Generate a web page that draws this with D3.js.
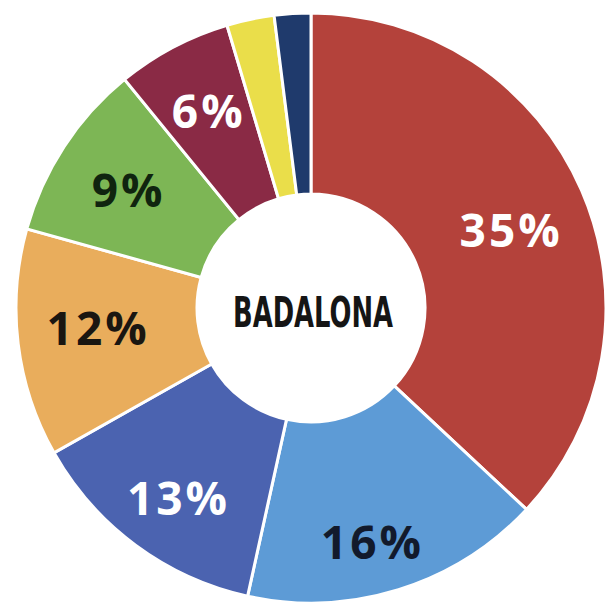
<!DOCTYPE html>
<html>
<head>
<meta charset="utf-8">
<script src="https://cdn.jsdelivr.net/npm/d3@7"></script>
<style>
  body { margin: 0; background: #fff; }
  svg { display: block; }
</style>
</head>
<body>
<div id="vis-container"></div>
<script>
// slice shares, clockwise from 12 o'clock
var shares = [37.0, 16.5, 13.4, 12.5, 9.8, 6.3, 2.6, 2.0];
var labels = ["35%", "16%", "13%", "12%", "9%", "6%", "", ""];
var colors = ["#b4423b", "#5d9bd6", "#4b63b0", "#e9ad5c", "#7db655", "#8a2a45", "#eade4a", "#1f3a6c"];
var labelColors = ["#fff", "#121a2c", "#fff", "#1a1611", "#10240f", "#fff", "#fff", "#fff"];
var centerTitle = "BADALONA";

// hand nudges of the labels away from the slice centroid (layout only)
var nudgeX = [-5, -6, -2, 6, 2, 0, 0, 0];
var nudgeY = [11, 22, 12, -6, 4, 0, 0, 0];

var width = 607, height = 606;
var cx = 311, cy = 308;
var outerR = 295, innerR = 114, labelR = 222;

var data = shares.map(function(v, i) {
    return {value: v, label: labels[i], color: colors[i], textColor: labelColors[i], nx: nudgeX[i], ny: nudgeY[i]};
});

var svg = d3.select("#vis-container").append("svg")
    .attr("width", width)
    .attr("height", height)
    .append("g")
    .attr("transform", "translate(" + cx + "," + cy + ")");

var pie = d3.pie()
    .value(function(d) { return d.value; })
    .sort(null);

var arc = d3.arc()
    .innerRadius(innerR)
    .outerRadius(outerR);

var labelArc = d3.arc()
    .innerRadius(labelR)
    .outerRadius(labelR);

var arcs = pie(data);

svg.selectAll("path.slice")
    .data(arcs)
    .enter().append("path")
    .attr("class", "slice")
    .attr("d", arc)
    .attr("fill", function(d) { return d.data.color; })
    .attr("stroke", "#fff")
    .attr("stroke-width", 3);

svg.selectAll("text.pct")
    .data(arcs)
    .enter().append("text")
    .attr("class", "pct")
    .attr("transform", function(d) {
        var c = labelArc.centroid(d);
        return "translate(" + (c[0] + d.data.nx) + "," + (c[1] + d.data.ny) + ")";
    })
    .attr("text-anchor", "middle")
    .attr("dx", "1.5px")
    .attr("dy", "0.36em")
    .style("font-family", "'Open Sans', 'Noto Sans', sans-serif")
    .style("font-weight", "bold")
    .style("font-size", "46px")
    .style("letter-spacing", "3px")
    .attr("fill", function(d) { return d.data.textColor; })
    .text(function(d) { return d.data.label; });

svg.append("text")
    .attr("x", 2)
    .attr("y", 19)
    .attr("text-anchor", "middle")
    .attr("textLength", 160)
    .attr("lengthAdjust", "spacingAndGlyphs")
    .style("font-family", "'Liberation Sans Narrow', 'DejaVu Sans Condensed', sans-serif")
    .style("font-weight", "bold")
    .style("font-size", "42px")
    .attr("fill", "#151515")
    .text(centerTitle);
</script>
</body>
</html>
